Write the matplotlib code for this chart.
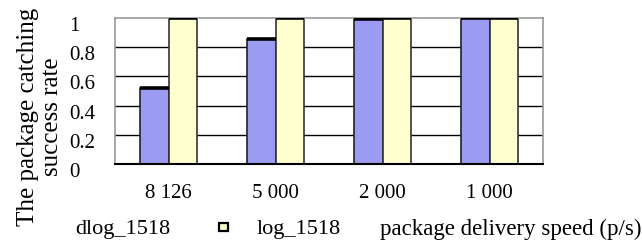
import matplotlib
matplotlib.use("Agg")
import matplotlib.pyplot as plt
import matplotlib.transforms as mtransforms
from matplotlib.patches import Rectangle
import numpy as np

plt.rcParams["font.family"] = ["Liberation Serif", "DejaVu Serif"]

speeds = ["8 126", "5 000", "2 000", "1 000"]
dlog_1518 = [0.52, 0.855, 0.99, 1.0]
log_1518 = [1.0, 1.0, 1.0, 1.0]
y_ticks = [0, 0.2, 0.4, 0.6, 0.8, 1]
y_tick_labels = ["0", "0.2", "0.4", "0.6", "0.8", "1"]

BLUE = "#9b9bf2"
YELLOW = "#ffffcf"
W = 0.27

fig = plt.figure(figsize=(6.42, 2.51), dpi=100)
ax = fig.add_axes([115 / 642, 1 - 165 / 251, 428 / 642, 146 / 251])

x = np.arange(len(speeds))
ax.bar(x - W / 2, dlog_1518, W, color=BLUE, edgecolor="#222222", linewidth=1.2, zorder=2)
ax.bar(x + W / 2, log_1518, W, color=YELLOW, edgecolor="#333333", linewidth=1.2, zorder=2)
# thick dark caps on top of bars
ax.hlines(dlog_1518, x - W, x, color="black", linewidth=2.6, zorder=3)
ax.hlines(log_1518, x, x + W, color="black", linewidth=2.6, zorder=3)

ax.set_xlim(-0.5, len(speeds) - 0.5)
ax.set_ylim(0, 1)
ax.set_yticks(y_ticks)
ax.set_yticklabels(y_tick_labels, fontsize=15, ha="left")
ax.tick_params(axis="y", length=0, pad=33)
# labels sit a little below their grid lines in the reference
shift = mtransforms.ScaledTranslation(0, -5 / 100, fig.dpi_scale_trans)
for lab in ax.get_yticklabels():
    lab.set_transform(lab.get_transform() + shift)
ax.set_xticks(x)
ax.set_xticklabels(speeds, fontsize=15)
ax.tick_params(axis="x", length=0, pad=14)

for yv in y_ticks[1:-1]:
    ax.axhline(yv, color="black", linewidth=1.0, zorder=1)

for s in ["left", "right", "top"]:
    ax.spines[s].set_color("#999999")
    ax.spines[s].set_linewidth(1.2)
ax.spines["bottom"].set_color("black")
ax.spines["bottom"].set_linewidth(1.5)

fig.text(40 / 642, 1 - 117 / 251, "The package catching\nsuccess rate", rotation=90,
         ha="center", va="center", fontsize=18, multialignment="center", linespacing=1.1)

# legend row (the blue key is not visible in the reference)
fig.text(75 / 642, 1 - 230 / 251, "dlog_1518", fontsize=16, ha="left", va="center")
fig.patches.append(Rectangle((219 / 642, 1 - 232 / 251), 9 / 642, 8 / 251,
                             transform=fig.transFigure, facecolor=YELLOW,
                             edgecolor="black", linewidth=1.6))
fig.text(257 / 642, 1 - 230 / 251, "log_1518", fontsize=16, ha="left", va="center")
fig.text(641 / 642, 1 - 229 / 251, "package delivery speed (p/s)", fontsize=16.5, ha="right", va="center")

fig.savefig("out.png", dpi=100)
